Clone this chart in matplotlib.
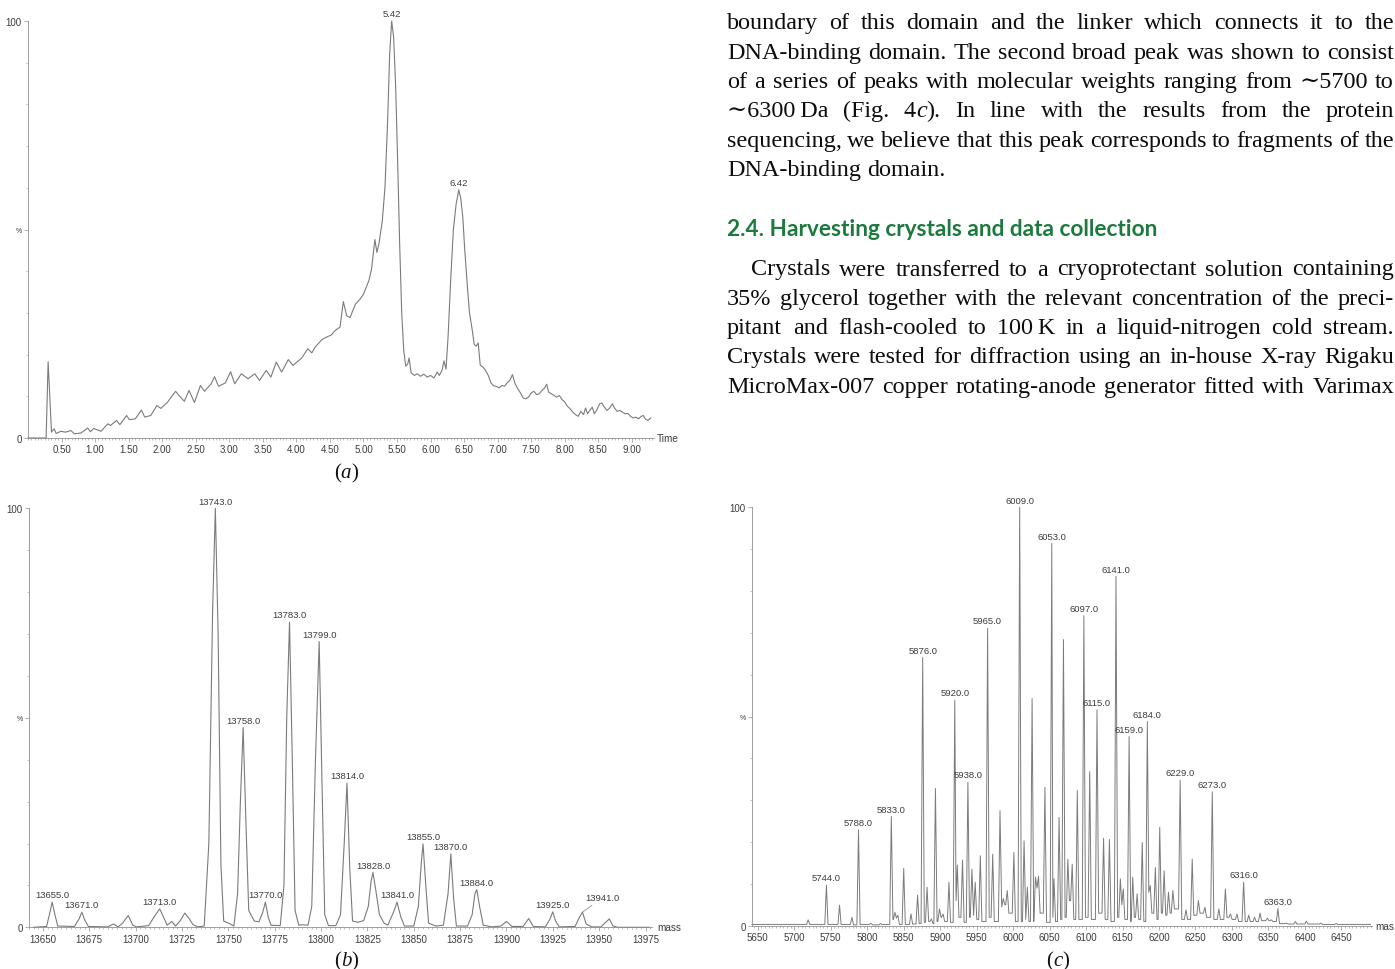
import matplotlib
matplotlib.use("Agg")
import matplotlib.pyplot as plt
from matplotlib import font_manager
from matplotlib.ticker import MultipleLocator, FixedLocator, FormatStrFormatter

W, H = 1395, 970

# ---------------- data: panel (a) total ion chromatogram ----------------
a_time = [0.00, 0.27, 0.30, 0.35, 0.39, 0.42, 0.49, 0.56, 0.64, 0.69, 0.79, 0.89, 0.93,
          0.98, 1.09, 1.19, 1.23, 1.32, 1.37, 1.47, 1.51, 1.60, 1.69, 1.74, 1.83, 1.92,
          1.98, 2.08, 2.20, 2.25, 2.33, 2.40, 2.48, 2.57, 2.63, 2.73, 2.78, 2.84, 2.94,
          3.02, 3.08, 3.18, 3.28, 3.38, 3.45, 3.55, 3.62, 3.70, 3.78, 3.88, 3.95, 4.08,
          4.17, 4.23, 4.28, 4.38, 4.45, 4.52, 4.58, 4.65, 4.70, 4.75, 4.80, 4.88, 4.95,
          5.00, 5.08, 5.12, 5.17, 5.20, 5.23, 5.28, 5.32, 5.36, 5.39, 5.42, 5.45, 5.48,
          5.51, 5.54, 5.57, 5.60, 5.63, 5.66, 5.68, 5.71, 5.76, 5.80, 5.85, 5.90, 5.95,
          6.00, 6.05, 6.10, 6.13, 6.17, 6.20, 6.23, 6.26, 6.30, 6.34, 6.38, 6.42, 6.45,
          6.48, 6.51, 6.55, 6.58, 6.62, 6.65, 6.68, 6.71, 6.74, 6.78, 6.82, 6.86, 6.90,
          6.94, 6.98, 7.02, 7.06, 7.10, 7.14, 7.18, 7.22, 7.26, 7.30, 7.34, 7.38, 7.42,
          7.46, 7.50, 7.54, 7.58, 7.62, 7.66, 7.70, 7.73, 7.76, 7.80, 7.84, 7.88, 7.92,
          7.96, 8.00, 8.04, 8.08, 8.12, 8.16, 8.20, 8.24, 8.28, 8.31, 8.34, 8.38, 8.41,
          8.44, 8.48, 8.52, 8.55, 8.59, 8.63, 8.67, 8.71, 8.74, 8.78, 8.82, 8.86, 8.90,
          8.94, 8.98, 9.02, 9.06, 9.10, 9.14, 9.17, 9.20, 9.24, 9.28]
a_int = [0.0, 0.0, 18.3, 1.4, 2.2, 1.1, 1.6, 1.4, 1.8, 1.0, 1.2, 2.4, 1.5,
         2.3, 1.6, 3.4, 3.0, 4.2, 3.2, 5.4, 4.4, 4.6, 6.7, 5.0, 5.4, 7.8,
         7.1, 8.6, 11.2, 10.2, 8.8, 11.4, 8.5, 12.6, 11.2, 13.0, 14.7, 12.4, 13.2,
         15.9, 13.0, 15.4, 14.2, 15.4, 13.8, 16.2, 14.6, 18.2, 15.8, 18.8, 17.4, 19.2,
         21.4, 20.4, 21.8, 23.6, 24.2, 24.7, 25.8, 26.6, 32.7, 29.3, 28.9, 32.1, 33.3,
         34.5, 37.7, 40.5, 47.6, 44.5, 46.5, 52.0, 60.0, 76.0, 92.0, 100.0, 96.0, 84.0,
         66.0, 46.0, 30.0, 21.0, 17.2, 17.8, 19.2, 15.6, 15.0, 15.4, 14.8, 15.3, 14.6,
         15.0, 14.4, 15.8, 15.0, 16.2, 18.5, 16.5, 24.0, 38.0, 50.0, 56.0, 59.5, 57.5,
         53.0, 45.0, 36.0, 30.0, 26.0, 22.5, 22.0, 22.8, 17.5, 17.0, 16.2, 15.0, 13.2,
         12.5, 12.4, 12.0, 12.6, 12.4, 13.2, 13.8, 15.2, 13.0, 11.8, 10.8, 9.6, 9.4,
         9.8, 10.8, 11.2, 10.4, 10.6, 11.4, 12.0, 12.9, 11.0, 10.6, 10.2, 9.8, 10.2,
         9.2, 8.6, 7.6, 7.0, 6.2, 5.6, 5.2, 6.4, 5.6, 7.2, 5.8, 6.8, 7.4,
         5.8, 6.8, 8.2, 8.4, 7.4, 6.6, 7.2, 8.2, 7.2, 6.4, 6.6, 6.2, 5.8,
         5.9, 5.2, 4.8, 5.0, 4.6, 5.2, 5.4, 4.6, 4.2, 4.8]
a_label_time = [5.42, 6.42]
a_label_int = [100.0, 59.5]
a_xticks = [0.50, 1.00, 1.50, 2.00, 2.50, 3.00, 3.50, 4.00, 4.50, 5.00, 5.50, 6.00,
            6.50, 7.00, 7.50, 8.00, 8.50, 9.00]

# ---------------- data: panel (b) deconvoluted spectrum 13.6-14.0 kDa ----------------
b_mass = [13645, 13652, 13654, 13655, 13656.5, 13658, 13667, 13669.5, 13671, 13672.5,
          13674.5, 13685, 13688, 13690.5, 13693, 13696, 13698.5, 13700.5, 13707, 13710,
          13713, 13715.5, 13717, 13719.5, 13721.5, 13724, 13726.5, 13729, 13731, 13733.5,
          13737, 13739.5, 13741.5, 13743, 13744.5, 13746, 13747.5, 13751, 13753, 13755,
          13756.5, 13758, 13759.5, 13761, 13764, 13766.5, 13768.5, 13770, 13771.5, 13773,
          13778, 13780, 13781.5, 13783, 13784.5, 13786, 13788, 13790, 13793, 13795,
          13797, 13799, 13800.5, 13802, 13804, 13808, 13810.5, 13812.5, 13814, 13815.5,
          13817, 13820, 13823, 13825.5, 13827, 13828, 13829.5, 13831.5, 13834, 13836,
          13839, 13841, 13843, 13845, 13850, 13852.5, 13854, 13855, 13856.5, 13858,
          13862, 13866, 13868.5, 13870, 13871.5, 13873, 13879, 13881.5, 13883, 13884,
          13885.5, 13887.5, 13892, 13897, 13900, 13903, 13909, 13912, 13914.5, 13921,
          13923.5, 13925, 13926.5, 13928.5, 13937, 13939.5, 13941, 13943, 13946, 13951,
          13953.5, 13955.5, 13957.5, 13960, 13977]
b_int = [0.0, 0.2, 4.0, 6.0, 3.0, 0.3, 0.2, 2.0, 3.6, 1.8,
         0.2, 0.1, 0.8, 0.1, 1.0, 2.8, 0.5, 0.1, 0.4, 2.5,
         4.4, 2.0, 0.5, 1.4, 0.3, 1.5, 3.4, 2.0, 0.6, 0.1,
         0.3, 20.0, 75.0, 100.0, 70.0, 15.0, 1.5, 0.8, 0.3, 8.0,
         30.0, 47.7, 25.0, 4.0, 1.5, 1.3, 3.5, 6.0, 2.5, 0.5,
         0.4, 10.0, 50.0, 72.8, 40.0, 4.0, 0.5, 0.6, 0.5, 5.0,
         40.0, 68.2, 35.0, 3.0, 0.4, 0.4, 3.0, 20.0, 34.4, 14.0,
         1.5, 1.2, 1.6, 5.0, 11.0, 13.1, 9.0, 3.0, 1.0, 0.5,
         3.5, 6.0, 2.5, 0.3, 0.3, 5.0, 15.0, 19.9, 10.0, 1.0,
         0.3, 0.5, 8.0, 17.5, 7.0, 0.3, 0.3, 3.0, 8.0, 9.0,
         5.0, 0.5, 0.1, 0.3, 1.4, 0.2, 0.2, 2.1, 0.2, 0.1,
         2.0, 3.7, 1.5, 0.1, 0.2, 2.5, 3.6, 0.8, 0.1, 0.1,
         1.2, 2.0, 0.3, 0.0, 0.0]
b_labels = [13655.0, 13671.0, 13713.0, 13743.0, 13758.0, 13770.0, 13783.0, 13799.0,
            13814.0, 13828.0, 13841.0, 13855.0, 13870.0, 13884.0, 13925.0, 13941.0]
b_xticks = [13650, 13675, 13700, 13725, 13750, 13775, 13800, 13825, 13850, 13875,
            13900, 13925, 13950, 13975]

# ---------------- data: panel (c) deconvoluted spectrum 5.7-6.4 kDa ----------------
c_peak_mass = [5719, 5744, 5762, 5779, 5788, 5805, 5818, 5833, 5838, 5842, 5850, 5860,
               5869, 5876, 5882, 5888, 5893.5, 5899, 5904, 5912, 5920, 5923.5, 5930.6,
               5938, 5943.5, 5948, 5955, 5965, 5972, 5982, 5986.5, 5992, 6001, 6009,
               6015, 6019.5, 6026, 6030.6, 6034.8, 6043.6, 6053, 6056, 6063, 6069, 6075,
               6081, 6088, 6097, 6105, 6115, 6124, 6132, 6141, 6147, 6151, 6159, 6164,
               6170, 6177, 6184, 6188, 6195, 6201, 6207, 6213, 6219, 6229, 6237, 6245.5,
               6254, 6263, 6273, 6282, 6291, 6298, 6307, 6316, 6323, 6331, 6338.5, 6348.5,
               6354, 6363, 6375, 6387, 6402, 6422, 6443]
c_peak_int = [1.4, 9.7, 4.9, 2.0, 22.9, 0.6, 0.5, 26.1, 3.2, 2.5, 13.7, 2.8,
              7.3, 64.1, 9.2, 1.6, 32.8, 4.0, 2.8, 10.4, 53.9, 14.5, 15.7,
              34.3, 13.5, 10.4, 16.7, 71.1, 17.1, 27.5, 6.5, 8.4, 17.5, 100.0,
              20.3, 9.2, 54.3, 11.6, 11.8, 33.1, 91.4, 11.2, 25.9, 68.4, 15.9,
              14.7, 32.3, 74.1, 36.8, 51.6, 20.9, 20.6, 83.5, 11.2, 8.8, 45.2, 11.6,
              7.6, 19.9, 48.8, 9.6, 13.9, 23.5, 13.1, 8.0, 8.4, 34.8, 3.8, 15.9,
              6.0, 4.4, 32.0, 4.0, 8.8, 2.8, 2.8, 10.4, 2.5, 2.0, 3.0, 1.8,
              1.4, 4.1, 0.6, 1.0, 1.1, 0.6, 0.5]
c_valley_int = [0.3, 0.3, 0.3, 0.3, 0.2, 0.3, 0.2, 0.3, 1.5, 1.8, 0.3, 0.3, 0.4,
                0.5, 0.8, 1.0, 0.5, 1.0, 2.0, 1.0, 0.8, 6.0, 2.0, 0.8,
                2.0, 2.5, 1.5, 1.0, 2.0, 1.0, 4.5, 5.0, 3.0, 1.0, 1.0,
                1.5, 1.0, 1.0, 9.0, 3.0, 0.8, 2.0, 1.0, 1.5, 2.0, 6.0,
                1.5, 1.5, 2.0, 1.5, 3.0, 1.5, 1.0, 2.0, 5.0, 1.5, 1.0, 2.0,
                1.5, 1.0, 8.0, 3.0, 1.5, 3.0, 2.5, 3.0, 4.0, 1.5, 1.5, 2.5,
                3.0, 2.0, 1.5, 1.5, 2.0, 1.5, 1.0, 1.0, 1.0, 1.0, 1.2, 1.2,
                1.0, 0.5, 0.4, 0.4, 0.4, 0.3, 0.3]
c_labels = [5744.0, 5788.0, 5833.0, 5876.0, 5920.0, 5938.0, 5965.0, 6009.0, 6053.0,
            6097.0, 6115.0, 6141.0, 6159.0, 6184.0, 6229.0, 6273.0, 6316.0, 6363.0]
c_xticks = [5650, 5700, 5750, 5800, 5850, 5900, 5950, 6000, 6050, 6100, 6150, 6200,
            6250, 6300, 6350, 6400, 6450]

# ---------------- page text ----------------
para1 = [
    "boundary of this domain and the linker which connects it to the",
    "DNA-binding domain. The second broad peak was shown to consist",
    "of a series of peaks with molecular weights ranging from \u223c5700 to",
    None,  # line with italic c, built below
    "sequencing, we believe that this peak corresponds to fragments of the",
    "DNA-binding domain.",
]
heading = "2.4. Harvesting crystals and data collection"
para2 = [
    "Crystals were transferred to a cryoprotectant solution containing",
    "35% glycerol together with the relevant concentration of the preci-",
    "pitant and flash-cooled to 100\u2009K in a liquid-nitrogen cold stream.",
    "Crystals were tested for diffraction using an in-house X-ray Rigaku",
    "MicroMax-007 copper rotating-anode generator fitted with Varimax",
]

# ---------------- fonts ----------------
names = {f.name for f in font_manager.fontManager.ttflist}


def pick(*cands):
    for c in cands:
        if c in names:
            return c
    return "DejaVu Sans"


SANS_N = pick("Liberation Sans Narrow", "Liberation Sans", "DejaVu Sans")
SERIF = pick("Liberation Serif", "DejaVu Serif")
HEAD = pick("Lato", "Open Sans", "Liberation Sans")
plt.rcParams["font.family"] = [SANS_N, "DejaVu Sans"]

LINE = "#7b7b7b"
AXC = "#8f8f8f"
TXT = "#3c3c3c"

fig = plt.figure(figsize=(W / 100, H / 100), dpi=100)
fig.patch.set_facecolor("white")
renderer = fig.canvas.get_renderer()


def make_ax(left, right, top, bottom):
    return fig.add_axes([left / W, 1 - bottom / H, (right - left) / W, (bottom - top) / H])


def style_ax(ax, xmaj, xmin_step, fmt):
    for s in ("top", "right"):
        ax.spines[s].set_visible(False)
    for s in ("left", "bottom"):
        ax.spines[s].set_color(AXC)
        ax.spines[s].set_linewidth(0.6)
    ax.set_facecolor("none")
    ax.set_ylim(0, 100)
    ax.yaxis.set_major_locator(FixedLocator([0, 50, 100]))
    ax.set_yticklabels(["0", "%", "100"])
    ax.yaxis.set_minor_locator(MultipleLocator(10))
    ax.xaxis.set_major_locator(FixedLocator(xmaj))
    ax.xaxis.set_minor_locator(MultipleLocator(xmin_step))
    ax.xaxis.set_major_formatter(FormatStrFormatter(fmt))
    ax.tick_params(which="major", length=3, width=0.5, color=AXC, labelsize=7,
                   labelcolor=TXT, pad=1.5)
    ax.tick_params(which="minor", length=1.6, width=0.4, color=AXC)
    for lab in ax.get_yticklabels():
        if lab.get_text() == "%":
            lab.set_fontsize(5)


def peak_label(ax, x, y, text, dx=0.0, dy=2.0):
    ax.annotate(text, (x, y), xytext=(dx, dy), textcoords="offset points",
                ha="center", va="bottom", fontsize=6.8, color=TXT, annotation_clip=False)


# ---- panel (a)
axa = make_ax(28, 654, 22, 439)
axa.plot(a_time, a_int, color=LINE, lw=0.8, clip_on=False)
axa.set_xlim(0, 9.33)
style_ax(axa, a_xticks, 0.05, "%.2f")
for t, v in zip(a_label_time, a_label_int):
    peak_label(axa, t, v, f"{t:.2f}")
fig.text(657 / W, 1 - 439 / H, "Time", fontsize=7.2, color=TXT, va="center", ha="left")

# ---- panel (b)
axb = make_ax(29, 652, 509.3, 928.3)
axb.plot(b_mass, b_int, color=LINE, lw=0.8, clip_on=False)
axb.set_xlim(13642.5, 13978.5)
style_ax(axb, b_xticks, 2.5, "%d")
for m in b_labels:
    i = min(range(len(b_mass)), key=lambda k: (abs(b_mass[k] - m), -b_int[k]))
    if m == 13941.0:
        axb.annotate(f"{m:.1f}", (m, b_int[i]), xytext=(14, 7), textcoords="offset points",
                     ha="center", va="bottom", fontsize=6.8, color=TXT,
                     arrowprops=dict(arrowstyle="-", color=LINE, lw=0.5, shrinkA=0, shrinkB=0))
    else:
        peak_label(axb, m, b_int[i], f"{m:.1f}")
fig.text(657 / W, 1 - 928.3 / H, "mass", fontsize=7.2, color=TXT, va="center", ha="left")

# ---- panel (c)
C_X0, C_X1, HW = 5642, 6490, 2.2
cx, cy = [C_X0], [c_valley_int[0]]
n = len(c_peak_mass)
for i, (m, h) in enumerate(zip(c_peak_mass, c_peak_int)):
    lg = m - (c_peak_mass[i - 1] if i > 0 else C_X0)
    rg = (c_peak_mass[i + 1] if i < n - 1 else C_X1) - m
    wl, wr = min(HW, lg / 2), min(HW, rg / 2)
    cx += [m - wl, m, m + wr]
    cy += [c_valley_int[i], h, c_valley_int[i + 1]]
cx.append(C_X1)
cy.append(c_valley_int[-1])

axc = make_ax(752, 1372, 508.3, 926.7)
axc.plot(cx, cy, color=LINE, lw=0.7, clip_on=False)
axc.set_xlim(5642, 6492)
style_ax(axc, c_xticks, 5, "%d")
for m in c_labels:
    i = c_peak_mass.index(m)
    peak_label(axc, m, c_peak_int[i], f"{m:.1f}")
# the scanned page shows only "mas" of this axis title at the right edge
fig.text(1375 / W, 1 - 926.7 / H, "mas", fontsize=7.2, color=TXT, va="center", ha="left")


# ---------------- text helpers ----------------
def make_word(word, size, family, color, weight="normal"):
    segs = word if isinstance(word, list) else [(word, "normal")]
    ts, ws = [], []
    for s, st in segs:
        t = fig.text(0, 0, s, fontsize=size, family=family, style=st, color=color,
                     weight=weight, va="baseline", ha="left")
        ts.append(t)
        ws.append(t.get_window_extent(renderer).width)
    return ts, ws


def place(ts, ws, x, yb):
    for t, w in zip(ts, ws):
        t.set_position((x / W, 1 - yb / H))
        x += w
    return x


def draw_line(words, x0, x1, yb, size, family, color, justify=True, weight="normal"):
    items = [make_word(w, size, family, color, weight) for w in words]
    total = sum(sum(ws) for _, ws in items)
    nat = size * 100 / 72 * 0.25
    if justify and len(items) > 1:
        gap = max((x1 - x0 - total) / (len(items) - 1), 2.0)
    else:
        gap = nat
    x = x0
    for ts, ws in items:
        x = place(ts, ws, x, yb) + gap


def measure(text, size, family, weight="normal"):
    t = fig.text(0, 0, text, fontsize=size, family=family, weight=weight)
    w = t.get_window_extent(renderer).width
    t.remove()
    return w


SER = [SERIF, "DejaVu Serif"]
body_size = 17.0 * 218.0 / measure("DNA-binding domain.", 17.0, SER)
body_size = max(15.5, min(18.5, body_size))
head_size = 13.0 * 430.0 / measure(heading, 13.0, HEAD, "bold")

X0, X1 = 727, 1394
BODY = "#0d0d0d"
base1 = [29.3, 58.6, 88.0, 117.3, 146.6, 176.0]
for k, ln in enumerate(para1):
    if ln is None:
        words = ["\u223c6300\u2009Da", "(Fig.", [("4", "normal"), ("c", "italic"), (").", "normal")],
                 "In", "line", "with", "the", "results", "from", "the", "protein"]
    else:
        words = ln.split(" ")
    draw_line(words, X0, X1, base1[k], body_size, SER, BODY, justify=(k < 5))

fig.text(X0 / W, 1 - 235.5 / H, heading, fontsize=head_size, family=HEAD, weight="bold",
         color="#1d7a3e", va="baseline", ha="left")

base2 = [275.5, 304.8, 334.0, 363.4, 392.7]
for k, ln in enumerate(para2):
    x0 = 751 if k == 0 else X0
    draw_line(ln.split(" "), x0, X1, base2[k], body_size, SER, BODY, justify=True)


# ---------------- captions ----------------
def caption(letter, xc, yb):
    segs = [("(", "normal"), (letter, "italic"), (")", "normal")]
    ts, ws = make_word(segs, 15, SER, "#111111")
    place(ts, ws, xc - sum(ws) / 2, yb)


caption("a", 346, 478)
caption("b", 346, 966)
caption("c", 1058, 966)

fig.savefig("out.png", dpi=100, facecolor="white")
